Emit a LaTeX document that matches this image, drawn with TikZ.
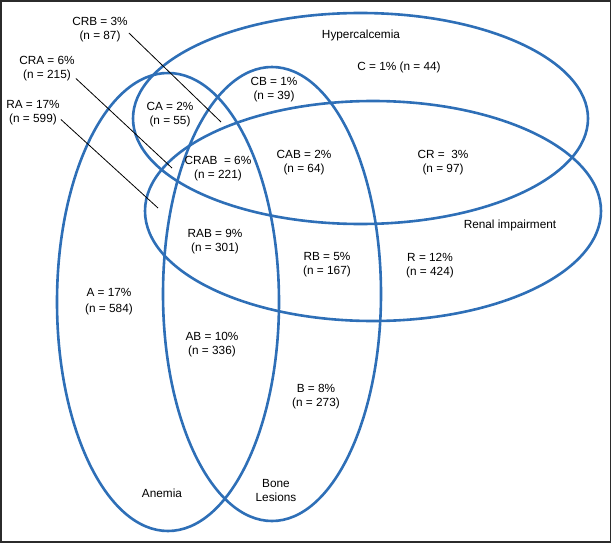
\documentclass[tikz,border=0pt]{standalone}
\usepackage{fontspec}
\setmainfont{Liberation Sans}
\usepackage{tikz}
\usetikzlibrary{positioning}
\definecolor{VennBlue}{HTML}{2E6FB7}
\definecolor{FrameGray}{HTML}{2B2B2B}
\tikzset{
  venn/.style={draw=VennBlue, line width=2.6pt},
  tally/.style={align=center, inner sep=1pt, font=\fontsize{11.8pt}{14pt}\selectfont},
  setname/.style={tally},
  pointer/.style={draw=black, line width=0.8pt},
  frame/.style={draw=FrameGray, line width=1.6pt}
}

\begin{document}
\begin{tikzpicture}[x=1pt, y=-1pt]
  \useasboundingbox (0,0) rectangle (612,543);
  \draw[frame] (0.8,0.8) rectangle (610.6,541.8);

  % the four sets
  \coordinate (ccen) at (360.5,118.5);
  \coordinate (rcen) at (373,211);
  \coordinate (acen) at (168,302);
  \coordinate (bcen) at (272,294);
  \draw[venn] (ccen) ellipse [x radius=227.5pt, y radius=105.5pt];
  \draw[venn] (rcen) ellipse [x radius=228pt, y radius=110pt];
  \draw[venn] (acen) ellipse [x radius=111pt, y radius=229pt];
  \draw[venn] (bcen) ellipse [x radius=109pt, y radius=227pt];

  % set names
  \node[setname] (hyper) at (361,35) {Hypercalcemia};
  \node[setname] (renal) at (510,225) {Renal impairment};
  \node[setname] (anemia) at (162,493) {Anemia};
  \node[setname] (bone) at (276,490) {Bone\\Lesions};

  % region counts
  \node[tally] (c) at (399,67) {C = 1\% (n = 44)};
  \node[tally] (ca) at (170,115) {CA = 2\%\\(n = 55)};
  \node[tally] (cb) at (274,90) {CB = 1\%\\(n = 39)};
  \node[tally] (crab) at (218,169) {CRAB \ = 6\%\\(n = 221)};
  \node[tally] (cab) at (304,163) {CAB = 2\%\\(n = 64)};
  \node[tally] (cr) at (443,163) {CR = \ 3\%\\(n = 97)};
  \node[tally] (rab) at (215,242) {RAB = 9\%\\(n = 301)};
  \node[tally] (rb) at (327,265) {RB = 5\%\\(n = 167)};
  \node[tally] (r) at (430,266) {R = 12\%\\(n = 424)};
  \node[tally] (a) at (109,302) {A = 17\%\\[2pt](n = 584)};
  \node[tally] (ab) at (212,345) {AB = 10\%\\(n = 336)};
  \node[tally] (b) at (316,396.5) {B = 8\%\\(n = 273)};

  % labels outside, with pointers
  \node[tally] (crb) at (100,30) {CRB = 3\%\\(n = 87)};
  \node[tally] (cra) at (47,68.5) {CRA = 6\%\\(n = 215)};
  \node[tally] (ra) at (33,112.5) {RA = 17\%\\(n = 599)};
  \coordinate (crbtip) at (221,122);
  \coordinate (cratip) at (172,168);
  \coordinate (ratip) at (158,208);
  \draw[pointer] ([yshift=-3pt]crb.east) -- (crbtip);
  \draw[pointer] ([yshift=-10pt]cra.east) -- (cratip);
  \draw[pointer] ([yshift=-7pt]ra.east) -- (ratip);
\end{tikzpicture}
\end{document}
